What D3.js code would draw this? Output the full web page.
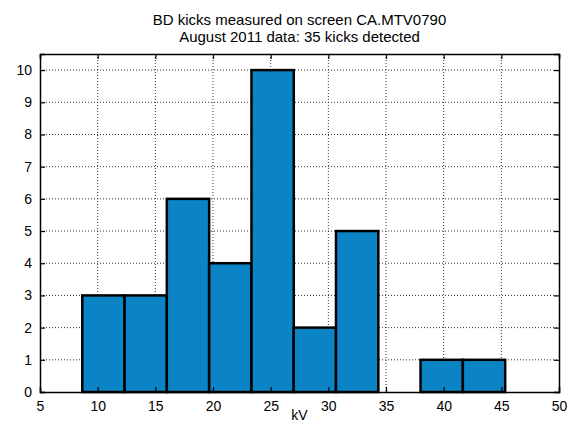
<!DOCTYPE html>
<html>
<head>
<meta charset="utf-8">
<script src="https://cdn.jsdelivr.net/npm/d3@7"></script>
<style>
  body { margin: 0; background: #fff; }
  text { font-family: "Liberation Sans", Arial, sans-serif; }
</style>
</head>
<body>
<svg id="chart" width="568" height="424"></svg>
<script>
// 1: DATA
const titleLines = ["BD kicks measured on screen CA.MTV0790", "August 2011 data: 35 kicks detected"];
const binCenters = [10.5, 14.17, 17.83, 21.5, 25.17, 28.83, 32.5, 36.17, 39.83, 43.5];
const counts = [3, 3, 6, 4, 10, 2, 5, 0, 1, 1];
const xTicks = [5, 10, 15, 20, 25, 30, 35, 40, 45, 50];
const yTicks = [0, 1, 2, 3, 4, 5, 6, 7, 8, 9, 10];

// 2: LAYOUT
const margin = { top: 54, right: 9, bottom: 32, left: 40 };
const width = 568 - margin.left - margin.right;
const height = 424 - margin.top - margin.bottom;

const svg = d3.select("#chart");
const g = svg.append("g")
    .attr("transform", `translate(${margin.left},${margin.top})`);

// 3: SCALES
const x = d3.scaleLinear().domain([5, 50]).range([0, width]);
const y = d3.scaleLinear().domain([0, 10.5]).range([height, 0]);
const binW = binCenters[1] - binCenters[0];

// grid
g.append("g").selectAll("line")
    .data(xTicks.slice(1, -1))
    .join("line")
    .attr("x1", d => x(d)).attr("x2", d => x(d))
    .attr("y1", 0).attr("y2", height)
    .attr("stroke", "#000").attr("stroke-width", 0.8)
    .attr("stroke-dasharray", "1,2");

g.append("g").selectAll("line")
    .data(yTicks.slice(1))
    .join("line")
    .attr("x1", 0).attr("x2", width)
    .attr("y1", d => y(d)).attr("y2", d => y(d))
    .attr("stroke", "#000").attr("stroke-width", 0.8)
    .attr("stroke-dasharray", "1,2");

// 4: BARS
g.append("g").selectAll("rect")
    .data(binCenters.map((c, i) => ({ c, n: counts[i] })))
    .join("rect")
    .attr("x", d => x(d.c - binW / 2))
    .attr("y", d => y(d.n))
    .attr("width", d => x(d.c + binW / 2) - x(d.c - binW / 2))
    .attr("height", d => y(0) - y(d.n))
    .attr("fill", "#0b84c6")
    .attr("stroke", "#000")
    .attr("stroke-width", 2.5);

// 5: AXES (box with inward ticks)
const tickLen = 5;
const axisBottom = d3.axisBottom(x).tickValues(xTicks).tickSize(-tickLen).tickPadding(9);
const axisTop = d3.axisTop(x).tickValues(xTicks).tickSize(-tickLen).tickFormat("");
const axisLeft = d3.axisLeft(y).tickValues(yTicks).tickSize(-tickLen).tickPadding(8);
const axisRight = d3.axisRight(y).tickValues(yTicks).tickSize(-tickLen).tickFormat("");

g.append("g").attr("transform", `translate(0,${height})`).call(axisBottom);
g.append("g").call(axisTop);
g.append("g").call(axisLeft);
g.append("g").attr("transform", `translate(${width},0)`).call(axisRight);

g.selectAll(".domain").attr("stroke", "#000").attr("stroke-width", 1.5);
g.selectAll(".tick line").attr("stroke", "#000").attr("stroke-width", 1.2);
g.selectAll(".tick text")
    .attr("fill", "#000")
    .style("font-size", "14px")
    .style("font-family", "Liberation Sans, Arial, sans-serif");

// 6: LABELS
svg.append("text")
    .attr("x", margin.left + width / 2)
    .attr("y", 420)
    .attr("text-anchor", "middle")
    .style("font-size", "14px")
    .text("kV");

svg.selectAll(".title")
    .data(titleLines)
    .join("text")
    .attr("class", "title")
    .attr("x", margin.left + width / 2)
    .attr("y", (d, i) => 25 + i * 17)
    .attr("text-anchor", "middle")
    .style("font-size", "15px")
    .text(d => d);
</script>
</body>
</html>
